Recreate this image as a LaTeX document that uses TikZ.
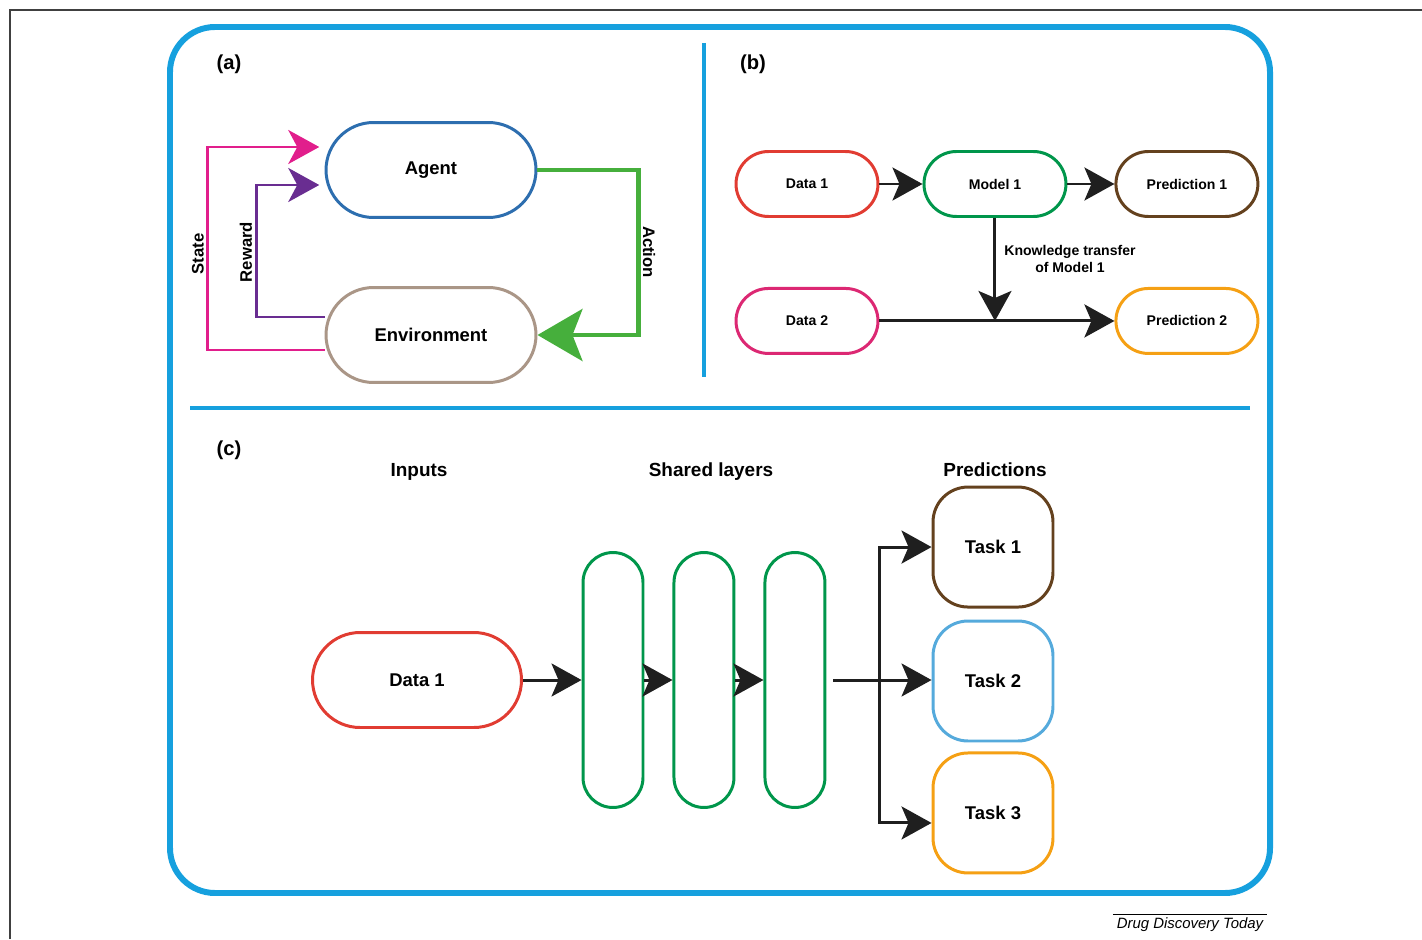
\documentclass[tikz,border=0pt]{standalone}
\usepackage{fontspec}
\setmainfont{Liberation Sans}
\usepackage{xcolor}
\usetikzlibrary{arrows.meta, positioning, calc}

\definecolor{frameblue}{RGB}{22,160,222}
\definecolor{agentblue}{RGB}{45,110,175}
\definecolor{envgray}{RGB}{170,150,135}
\definecolor{statepink}{RGB}{225,30,140}
\definecolor{rewardpurple}{RGB}{105,45,145}
\definecolor{actiongreen}{RGB}{70,175,60}
\definecolor{datared}{RGB}{225,60,50}
\definecolor{modelgreen}{RGB}{0,150,75}
\definecolor{predbrown}{RGB}{100,65,30}
\definecolor{datapink}{RGB}{220,40,115}
\definecolor{predorange}{RGB}{245,160,20}
\definecolor{taskblue}{RGB}{85,170,220}

\begin{document}
\begin{tikzpicture}[
    x=0.02cm, y=-0.02cm,
    pill/.style={draw, rectangle, line width=1.7pt, fill=white, align=center, font=\bfseries\fontsize{10.5}{12}\selectfont},
    bigpill/.style={pill, minimum width=4.2cm, minimum height=1.9cm, rounded corners=0.95cm},
    smallpill/.style={pill, minimum width=2.84cm, minimum height=1.3cm, rounded corners=0.65cm, font=\bfseries\fontsize{8}{10}\selectfont},
    layer/.style={draw=modelgreen, line width=1.7pt, minimum width=1.2cm, minimum height=5.1cm, rounded corners=0.6cm},
    task/.style={pill, minimum width=2.4cm, minimum height=2.4cm, rounded corners=0.7cm},
    arrow/.style={-{Stealth[length=0.6cm, width=0.66cm, inset=0.14cm]}, line width=1.7pt, black!88},
    looparrow/.style={-{Stealth[length=0.62cm, width=0.68cm, inset=0.18cm]}, line width=1.7pt, shorten >=3pt},
    tag/.style={font=\bfseries\fontsize{11.5}{13}\selectfont},
    title/.style={anchor=base, font=\bfseries\fontsize{10.8}{13}\selectfont},
    lbl/.style={font=\bfseries\fontsize{9.5}{11}\selectfont}
]
\useasboundingbox (0,0) rectangle (1422,939);

% page frame and panels
\draw[line width=0.8pt, black!75] (10,939) -- (10,10) -- (1422,10);
\draw[frameblue, line width=3.4pt, rounded corners=0.9cm] (170,27) rectangle (1270,893);
\draw[frameblue, line width=2.8pt] (704,43) -- (704,377);
\draw[frameblue, line width=2.8pt] (190,408) -- (1250,408);

\node[tag] (taga) at (229,64) {(a)};
\node[tag] (tagb) at (753,64) {(b)};
\node[tag] (tagc) at (229,450) {(c)};

% (a) reinforcement loop
\node[bigpill, draw=agentblue] (agent) at (431,170) {Agent};
\node[bigpill, draw=envgray] (env) at (431,335) {Environment};

\draw[looparrow, statepink] ([yshift=-0.3cm]env.west) -- ++(-117,0) |- ([yshift=0.46cm]agent.west);
\draw[looparrow, rewardpurple] ([yshift=0.36cm]env.west) -- ++(-68,0) |- ([yshift=-0.3cm]agent.west);
\draw[-{Stealth[length=0.9cm, width=1.04cm, inset=0.2cm]}, line width=2.8pt, actiongreen] (agent.east) -- ++(101,0) |- (env.east);

\node[lbl, rotate=90] (statelbl) at (198,254) {State};
\node[lbl, rotate=90] (rewardlbl) at (246,252) {Reward};
\node[lbl, rotate=-90] (actionlbl) at (649,252) {Action};

% (b) transfer learning
\node[smallpill, draw=datared] (data1) at (807,184) {Data 1};
\node[smallpill, draw=modelgreen, right=0.86cm of data1] (model1) {Model 1};
\node[smallpill, draw=predbrown, right=0.94cm of model1] (pred1) {Prediction 1};
\node[smallpill, draw=datapink, below=1.38cm of data1] (data2) {Data 2};
\node[smallpill, draw=predorange, below=1.38cm of pred1] (pred2) {Prediction 2};
\coordinate (join) at (model1 |- data2);

\draw[arrow] (data1) -- (model1);
\draw[arrow] (model1) -- (pred1);
\draw[arrow] (data2) -- (pred2);
\draw[arrow] (model1) -- (join);
\node[font=\bfseries\fontsize{8}{10.2}\selectfont, align=center] (ktlabel) at (1070,259) {Knowledge transfer\\of Model 1};

% (c) multi-task learning
\node[title] (inputs) at (419,476) {Inputs};
\node[title] (shared) at (711,476) {Shared layers};
\node[title] (preds) at (995,476) {Predictions};

\node[bigpill, draw=datared, minimum width=4.18cm] (data1c) at (417,680) {Data 1};
\node[layer] (layer1) at (613,680) {};
\node[layer, right=0.56cm of layer1] (layer2) {};
\node[layer, right=0.56cm of layer2] (layer3) {};

\node[task, draw=taskblue] (task2) at (993,681) {Task 2};
\node[task, draw=predbrown, above=0.22cm of task2] (task1) {Task 1};
\node[task, draw=predorange, below=0.18cm of task2] (task3) {Task 3};
\coordinate (fork) at (879,680);

\draw[arrow] (data1c) -- (layer1);
\draw[arrow] (layer1) -- (layer2);
\draw[arrow] (layer2) -- (layer3);
\draw[line width=1.7pt, black!88] ([xshift=0.14cm]layer3.east) -- (fork);
\draw[arrow] (fork) -- (fork -| task2.west);
\draw[arrow] (fork) |- (task1);
\draw[arrow] (fork) |- ([yshift=-0.2cm]task3.west);

% journal credit
\node[font=\itshape\fontsize{8.5}{10}\selectfont, inner sep=2pt] (journal) at (1190,925) {Drug Discovery Today};
\draw[line width=0.6pt] (journal.north west) -- (journal.north east);

\end{tikzpicture}
\end{document}
